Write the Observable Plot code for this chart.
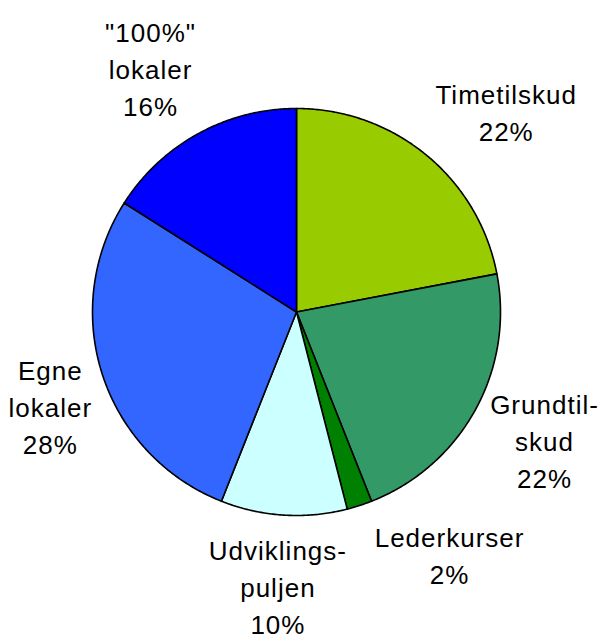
<!DOCTYPE html>
<html>
<head>
<meta charset="utf-8">
<script src="https://cdn.jsdelivr.net/npm/d3@7"></script>
<script src="https://cdn.jsdelivr.net/npm/@observablehq/plot@0.6"></script>
<style>
  body { margin: 0; background: #fff; }
  svg { display: block; }
</style>
</head>
<body>
<div id="chart"></div>
<script>
const categories = ["Timetilskud", "Grundtilskud", "Lederkurser", "Udviklingspuljen", "Egne lokaler", "\"100%\" lokaler"];
const labels = ["Timetilskud", "Grundtil-\nskud", "Lederkurser", "Udviklings-\npuljen", "Egne\nlokaler", "\"100%\"\nlokaler"];
const values = [22, 22, 2, 10, 28, 16];
const colors = ["#99CC00", "#339966", "#008000", "#CCFFFF", "#3366FF", "#0000FF"];

// layout constants (pixels), separate from the data
const FONT_SIZE = 26, LETTER_SPACING = 1, LINE_PX = 37, R_PX = 204;
const labelNudge = [[-1, 8], [-3, -21], [49, -8], [2, -6], [9, -2], [-5, 7]];

const rows = categories.map((c, i) => ({name: c, label: labels[i], value: values[i]}));
const arcs = d3.pie().sort(null).value(d => d.value)(rows);

// slice outlines: centre + points along the arc
const pts = [];
for (const a of arcs) {
  const name = a.data.name;
  pts.push({name, x: 0, y: 0});
  const n = Math.max(2, Math.ceil((a.endAngle - a.startAngle) / (Math.PI / 360)));
  for (let k = 0; k <= n; k++) {
    const t = a.startAngle + (a.endAngle - a.startAngle) * k / n;
    pts.push({name, x: Math.sin(t), y: Math.cos(t)});
  }
}

// text measuring for label placement
const ctx = document.createElement("canvas").getContext("2d");
ctx.font = `${FONT_SIZE}px "Liberation Sans"`;
const measure = s => ctx.measureText(s).width + LETTER_SPACING * s.length;
const clamp = v => Math.max(-1, Math.min(1, v));

const lab = arcs.map((a, i) => {
  const m = (a.startAngle + a.endAngle) / 2;
  const s = Math.sin(m), c = Math.cos(m);
  const text = a.data.label + "\n" + a.data.value + "%";
  const lines = text.split("\n");
  const W = Math.max(...lines.map(measure));
  const H = lines.length * LINE_PX;
  const offX = clamp(1.5 * s) * W / 2 + labelNudge[i][0];
  const offY = clamp(1.5 * c) * H / 2 - labelNudge[i][1];
  return {text, x: 1.1 * s + offX / R_PX, y: 1.1 * c + offY / R_PX};
});

const chart = Plot.plot({
  width: 601,
  height: 637,
  marginLeft: 92,
  marginRight: 101,
  marginTop: 108,
  marginBottom: 122,
  x: {domain: [-1, 1], axis: null},
  y: {domain: [-1, 1], axis: null},
  color: {domain: categories, range: colors},
  style: {fontFamily: "'Liberation Sans', Arial, Helvetica, sans-serif", letterSpacing: LETTER_SPACING + "px"},
  marks: [
    Plot.line(pts, {x: "x", y: "y", z: "name", fill: "name", stroke: "#000", strokeWidth: 1.6, curve: "linear-closed", strokeLinejoin: "round"}),
    Plot.text(lab, {
      x: "x", y: "y", text: "text",
      textAnchor: "middle", lineAnchor: "middle",
      fontSize: FONT_SIZE, lineHeight: LINE_PX / FONT_SIZE, fill: "#000"
    })
  ]
});
document.getElementById("chart").appendChild(chart);
</script>
</body>
</html>
